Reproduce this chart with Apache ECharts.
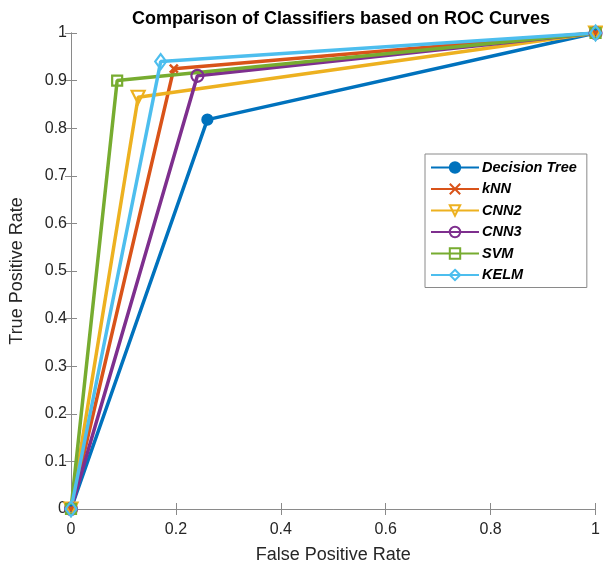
<!DOCTYPE html>
<html>
<head>
<meta charset="utf-8">
<script src="https://cdn.jsdelivr.net/npm/echarts@6/dist/echarts.min.js"></script>
<style>
  html, body { margin: 0; padding: 0; background: #fff; }
  #chart { width: 603px; height: 570px; }
</style>
</head>
<body>
<div id="chart"></div>
<script>
// ROC points per classifier: [FPR, TPR]
const classifiers = ['Decision Tree', 'kNN', 'CNN2', 'CNN3', 'SVM', 'KELM']
const decisionTree = [[0, 0], [0.26, 0.818], [1, 1]]
const knn = [[0, 0], [0.196, 0.925], [1, 1]]
const cnn2 = [[0, 0], [0.128, 0.865], [1, 1]]
const cnn3 = [[0, 0], [0.241, 0.91], [1, 1]]
const svm = [[0, 0], [0.088, 0.90], [1, 1]]
const kelm = [[0, 0], [0.171, 0.94], [1, 1]]

const colors = ['#0072BD', '#D95319', '#EDB120', '#7E2F8E', '#77AC30', '#4DBEEE']
const crossPath = 'path://M0,0 L10,10 M10,0 L0,10'
const hollow = 'rgba(255,255,255,0)'

const chart = echarts.init(document.getElementById('chart'))

const makeSeries = (name, data, color, symbol, filled, extra) => {
  return Object.assign({
    name: name,
    type: 'line',
    data: data,
    symbol: symbol,
    symbolSize: 11,
    showAllSymbol: true,
    color: color,
    lineStyle: { width: 3.5, color: color },
    itemStyle: {
      color: filled ? color : hollow,
      borderColor: color,
      borderWidth: 2.2
    },
    emphasis: { disabled: true },
    z: 3
  }, extra || {})
}

const axisColor = '#8a8a8a'
const labelColor = '#262626'
const font = 'Liberation Sans'

const option = {
  animation: false,
  title: {
    text: 'Comparison of Classifiers based on ROC Curves',
    left: 336,
    top: 5,
    textAlign: 'center',
    textStyle: { fontFamily: font, fontSize: 18, fontWeight: 'bold', color: '#000' }
  },
  legend: {
    data: classifiers,
    orient: 'vertical',
    left: 425,
    top: 154,
    width: 160,
    itemWidth: 48,
    itemHeight: 13,
    itemGap: 6.5,
    padding: [6, 10, 5, 5],
    backgroundColor: '#fff',
    borderColor: '#8a8a8a',
    borderWidth: 1,
    textStyle: {
      fontFamily: font,
      fontSize: 14.5,
      fontWeight: 'bold',
      fontStyle: 'italic',
      color: '#000',
      padding: [0, 0, 0, -2]
    }
  },
  grid: { left: 70, right: 2, top: 33, bottom: 61 },
  xAxis: [
    {
      type: 'value', min: 0, max: 1, interval: 0.2,
      name: 'False Positive Rate', nameLocation: 'middle', nameGap: 37,
      nameTextStyle: { fontFamily: font, fontSize: 18, color: labelColor },
      axisLine: { show: true, onZero: false, lineStyle: { color: axisColor } },
      axisTick: { show: true, inside: true, length: 6, lineStyle: { color: axisColor } },
      axisLabel: { fontFamily: font, fontSize: 16, color: labelColor, margin: 13 },
      splitLine: { show: false }
    },
    {
      type: 'value', min: 0, max: 1, interval: 0.2, position: 'top',
      axisLine: { show: true, lineStyle: { color: axisColor } },
      axisTick: { show: true, inside: true, length: 6, lineStyle: { color: axisColor } },
      axisLabel: { show: false },
      splitLine: { show: false }
    }
  ],
  yAxis: [
    {
      type: 'value', min: 0, max: 1, interval: 0.1,
      name: 'True Positive Rate', nameLocation: 'middle', nameGap: 45,
      nameTextStyle: { fontFamily: font, fontSize: 18, color: labelColor },
      axisLine: { show: true, onZero: false, lineStyle: { color: axisColor } },
      axisTick: { show: true, inside: true, length: 6, lineStyle: { color: axisColor } },
      axisLabel: {
        fontFamily: font, fontSize: 16, color: labelColor, margin: 4,
        formatter: v => String(Math.round(v * 10) / 10)
      },
      splitLine: { show: false }
    },
    {
      type: 'value', min: 0, max: 1, interval: 0.1, position: 'right',
      axisLine: { show: true, lineStyle: { color: axisColor } },
      axisTick: { show: true, inside: true, length: 6, lineStyle: { color: axisColor } },
      axisLabel: { show: false },
      splitLine: { show: false }
    }
  ],
  series: [
    makeSeries('Decision Tree', decisionTree, colors[0], 'circle', true, { symbolSize: 10 }),
    makeSeries('kNN', knn, colors[1], crossPath, false, {
      symbolSize: 8,
      itemStyle: { color: colors[1], borderColor: colors[1], borderWidth: 2.5 }
    }),
    makeSeries('CNN2', cnn2, colors[2], 'triangle', false, { symbolRotate: 180, symbolSize: 13 }),
    makeSeries('CNN3', cnn3, colors[3], 'circle', false, { symbolSize: 12 }),
    makeSeries('SVM', svm, colors[4], 'rect', false, { symbolSize: 10 }),
    makeSeries('KELM', kelm, colors[5], 'diamond', false, { symbolSize: [11, 15] })
  ]
}

chart.setOption(option)
</script>
</body>
</html>
